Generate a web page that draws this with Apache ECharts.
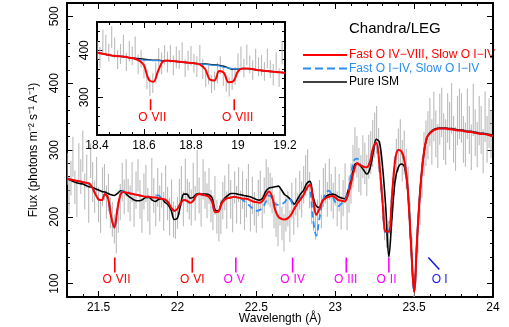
<!DOCTYPE html>
<html>
<head>
<meta charset="utf-8">
<script src="https://cdn.jsdelivr.net/npm/echarts@6/dist/echarts.min.js"></script>
<style>
html,body{margin:0;padding:0;background:#fff;}
#chart{width:509px;height:327px;}
</style>
</head>
<body>
<div id="chart"></div>
<script>
// binned spectrum (main panel): start wavelength + bin width, flux and 1-sigma errors
const mainStart = 21.30, mainBin = 0.0125
const mainFlux = [
  272,232,258,290,244,226,281,260, 298,238,268,220,284,252,230,262,
  218,200,245,252,222,236,206,196, 182,170,200,222,252,230,258,232,
  220,252,210,240,262,226,202,238, 250,218,200,258,232,210,244,220,
  240,208,250,220,200,232,196,192, 206,230,246,212,256,232,224,214,
  252,220,268,232,210,256,240,224, 246,216,206,232,200,186,200,224,
  236,210,254,226,204,244,218,248, 214,240,206,228,252,202,232,212,
  200,228,240,208,232,256,246,240, 232,208,196,180,214,190,176,204,
  212,186,224,198,230,210,240,226, 248,262,270,240,216,204,190,200,
  228,208,244,250,226,256,236,224, 246,212,236,206,228,250,204,234,
  250,276,300,290,270,262,290,280, 262,290,296,310,322,330,300,270,
  222,190,178,172,188,222,262,286, 300,312,284,296,272,246,196,148,
  96,120,168,214,258,294,310,322,  342,312,350,324,306,346,356,320,
  312,348,336,362,316,302,344,354, 348,316,308,354,330,304,360,326,
  308,344,330,298,350,316,340,324
]
const mainErr = [
  24,28,26,30,25,27,29,26, 31,27,25,29,26,30,24,28,
  26,24,29,27,25,28,23,26, 22,25,24,27,29,26,28,25,
  27,30,25,28,24,29,26,27, 28,25,27,30,26,24,29,27,
  26,29,27,25,28,24,27,25, 24,27,30,26,31,25,28,27,
  29,26,32,27,25,30,28,26, 27,24,26,29,25,23,26,28,
  26,28,25,29,27,24,28,26, 25,28,26,29,27,24,28,25,
  24,27,29,25,27,30,28,26, 27,25,26,24,27,25,28,26,
  26,24,27,25,28,26,29,27, 28,30,31,27,26,25,24,26,
  27,25,29,30,26,31,28,27, 29,26,28,25,27,30,24,28,
  30,32,34,31,33,30,32,31, 31,33,32,35,34,36,33,31,
  27,25,24,22,24,26,29,31, 32,34,31,33,30,29,25,21,
  18,19,23,26,30,33,34,36, 36,34,37,35,33,38,37,35,
  34,37,36,38,35,33,37,38, 37,35,33,38,36,34,39,35,
  34,37,36,33,38,35,37,36
]

// model curves (main panel) sampled every 0.02 A from 21.30
const modelStart = 21.30, modelStep = 0.02
const redModel = [
  257,256,255,254,253,252,251,250,244,234,
  226,225,234,228,200,184,212,234,237,236,
  235,234,233,232,231,230,230,229,229,228,
  227,226,222,214,209,212,220,225,224,221,
  224,232,234,233,232,230,222,207,208,220,
  226,228,229,230,229,228,227,227,225,223,
  222,221,224,232,238,230,210,200,197,196,
  198,203,212,220,226,233,243,248,226,203,
  212,224,228,230,231,229,225,224,223,232,
  250,270,280,277,275,274,282,303,311,278,
  222,178,178,232,285,300,298,282,240,160,
  88,172,245,292,318,325,329,331,332,332,
  332,331,331,330,329,329,328,327,327,326,
  325,324,324,323,322,321
]
const blueModel = [
  257,256,255,254,253,252,251,250,244,234,
  226,225,234,228,200,184,212,234,239,238,
  235,234,233,232,231,230,230,229,232,232,
  227,226,222,214,209,212,220,225,224,221,
  224,232,234,233,232,230,222,207,208,220,
  226,228,229,230,229,228,224,220,216,212,
  209,210,214,222,232,228,219,218,219,222,
  228,224,212,220,228,234,242,240,195,172,
  198,222,236,239,232,222,216,220,224,236,
  262,285,287,278,275,274,282,303,311,278,
  222,175,176,232,285,300,298,282,240,160,
  88,172,245,292,318,325,329,331,332,332,
  332,331,331,330,329,329,328,327,327,326,
  325,324,324,323,322,321
]
const blackModel = [
  257,255,253,251,250,249,247,245,244,242,
  240,238,237,235,233,232,235,239,238,233,
  229,226,224,224,226,229,229,225,223,226,
  227,222,218,210,196,198,218,234,234,228,
  229,234,235,234,234,233,228,210,209,222,
  228,232,235,235,234,233,232,231,230,228,
  226,225,228,238,243,244,245,246,240,233,
  230,225,219,226,234,240,250,253,230,216,
  214,224,230,233,234,233,230,228,227,238,
  255,276,280,276,270,264,272,295,316,312,
  275,215,140,200,255,274,279,274,240,160,
  88,172,245,292,318,326,330,332,333,333,
  333,332,332,331,330,330,329,328,328,327,
  326,325,325,324,323,322
]

// inset (18.4-19.2 A)
const insetStart = 18.40, insetBin = 0.0125
const insetFlux = [
  400,385,420,412,395,428,405,380, 392,410,375,398,388,405,370,382,
  360,335,322,330,352,385,372,390, 375,392,368,385,380,395,362,378,
  388,372,365,392,360,340,348,328, 335,352,368,345,330,322,338,345,
  372,385,362,390,370,358,380,365, 368,355,382,360,348,375,342,395
]
const insetErr = [
  20,22,24,21,19,23,22,20, 21,23,19,22,20,24,21,19,
  20,18,19,21,22,20,23,21, 22,19,21,23,20,22,19,21,
  21,20,22,19,21,18,20,19, 20,22,19,21,18,20,22,19,
  21,23,20,22,19,21,23,20, 22,20,21,19,23,21,20,24
]
const insetModelStart = 18.40, insetModelStep = 0.02
const insetRed = [
  395,393,391,389,388,387,386,384,382,378,
  368,338,333,356,376,378,377,376,375,374,
  373,372,369,360,338,336,356,352,332,334,
  355,361,361,360,358,357,356,355,354,353,352
]
const insetBlue = [
  395,393,391,389,388,387,386,384,382,380,
  379,379,378,378,377,378,377,376,375,374,
  373,372,371,370,369,368,367,364,362,361,
  360,361,361,360,358,357,356,355,354,353,352
]
const insetBlack = [
  395,393,391,389,388,387,386,384,383,382,
  381,380,379,379,378,378,377,376,375,374,
  373,372,371,371,370,369,368,366,362,360,
  360,361,361,360,358,357,356,355,354,353,352
]

// ticks
const mainXMajor = [21.5, 22, 22.5, 23, 23.5, 24]
const mainYMajor = [100, 200, 300, 400, 500]
const insetXMajor = [18.4, 18.6, 18.8, 19, 19.2]
const insetYMajor = [300, 400]

// absorption line markers
const mainIons = ['VII', 'VI', 'V', 'IV', 'III', 'II', 'I']
const mainIonWave = [21.603, 22.094, 22.37, 22.73, 23.07, 23.34, 23.66]
const insetIons = ['VII', 'VIII']
const insetIonWave = [18.628, 18.984]

const ionColor = {VIII:'#ff0000', VII:'#ff0000', VI:'#ff0000', V:'#ff00ff', IV:'#ff00ff', III:'#ff00ff', II:'#ff00ff', I:'#1a1ae6'}
const RED = '#ff0000', BLUE = '#2b8ef0', BLACK = '#000000', GREY = '#bbbbbb'
const FONT = 'Liberation Sans, Arial, Helvetica, sans-serif'
const NAME_RED = 'Fast O IV\u2212VIII, Slow O I\u2212IV'
const NAME_BLUE = 'Fast O I\u2212IV, Slow O I\u2212IV'
const NAME_BLACK = 'Pure ISM'

const pairs = (start, step, vals) => vals.map((v, i) => [+(start + i * step).toFixed(5), v])
const bars = (start, step, vals, errs) => vals.map((v, i) => [+(start + i * step).toFixed(5), v, errs[i]])

function errRender(params, api){
  const x = api.value(0), f = api.value(1), e = api.value(2)
  const a = api.coord([x, f - e]), b = api.coord([x, f + e])
  return {type:'line', shape:{x1:a[0], y1:a[1], x2:b[0], y2:b[1]}, style:{stroke:GREY, lineWidth:1.1}}
}

function ionRender(names, topVal, len, textGap){
  return function(params, api){
    const name = names[params.dataIndex]
    const p = api.coord([api.value(0), topVal])
    const c = ionColor[name]
    const ty = p[1] + len + textGap
    const kids = []
    if(name === 'I'){
      kids.push({type:'line', shape:{x1:p[0]-11, y1:p[1], x2:p[0], y2:p[1]+len-3}, style:{stroke:c, lineWidth:1.6}})
      kids.push({type:'text', x:p[0]-3, y:ty, style:{text:'O', fill:c, font:'12px '+FONT, align:'center', verticalAlign:'middle'}})
      kids.push({type:'text', x:p[0]+5, y:ty, style:{text:'I', fill:c, font:'12px '+FONT, align:'left', verticalAlign:'middle'}})
    } else {
      kids.push({type:'line', shape:{x1:p[0], y1:p[1], x2:p[0], y2:p[1]+len}, style:{stroke:c, lineWidth:1.6}})
      kids.push({type:'text', x:p[0]-3, y:ty, style:{text:'O', fill:c, font:'12px '+FONT, align:'right', verticalAlign:'middle'}})
      kids.push({type:'text', x:p[0]+1, y:ty, style:{text:name, fill:c, font:'12px '+FONT, align:'left', verticalAlign:'middle'}})
    }
    return {type:'group', children:kids}
  }
}

const axisBase = {
  type:'value', splitLine:{show:false},
  axisLine:{show:false}, axisLabel:{show:false},
  axisTick:{show:true, inside:true, length:3, lineStyle:{color:'#000', width:1}}
}
function minorAx(grid, pos, min, max, interval, lineW){
  return Object.assign({}, axisBase, {gridIndex:grid, position:pos, min, max, interval,
    axisLine:{show:true, onZero:false, lineStyle:{color:'#000', width:lineW}}})
}
function majorAx(grid, pos, min, max, vals, label){
  return Object.assign({}, axisBase, {gridIndex:grid, position:pos, min, max,
    axisTick:{show:true, inside:true, length:6, customValues:vals, lineStyle:{color:'#000', width:1}},
    axisLabel: label ? Object.assign({show:true, customValues:vals, color:'#000', fontSize:12, fontFamily:FONT}, label) : {show:false}
  })
}
const lineSeries = (name, xi, yi, color, width, type, z, data) => ({
  type:'line', name, xAxisIndex:xi, yAxisIndex:yi, symbol:'none', showSymbol:false,
  smooth:0.35, z, lineStyle:{color, width, type}, itemStyle:{color}, data
})

// hand-drawn legend (line sample + label)
const legendRows = [[NAME_RED, RED, 'solid', 2], [NAME_BLUE, BLUE, [8,4], 2], [NAME_BLACK, BLACK, 'solid', 1.5]]
const legendGraphic = []
legendRows.forEach((r, i) => {
  const y = 55 + i * 13.5
  legendGraphic.push({type:'line', shape:{x1:303, y1:y, x2:347, y2:y},
    style:{stroke:r[1], lineWidth:r[3], lineDash:r[2] === 'solid' ? null : r[2]}})
  legendGraphic.push({type:'text', x:349, y:y, style:{text:r[0], fill:r[1], font:'12px '+FONT, verticalAlign:'middle'}})
})

const chart = echarts.init(document.getElementById('chart'))
chart.setOption({
  animation:false,
  backgroundColor:'#fff',
  textStyle:{fontFamily:FONT},
  title:{text:'Chandra/LEG', left:349, top:21, padding:0,
    textStyle:{fontSize:15, fontWeight:'normal', color:'#000', fontFamily:FONT}},
  graphic:legendGraphic,
  grid:[
    {left:67, top:3, width:426, height:294, outerBoundsMode:'none', containLabel:false},
    {left:97, top:22, width:188, height:113, outerBoundsMode:'none', containLabel:false,
      show:true, backgroundColor:'#fff', borderWidth:0, z:5}
  ],
  xAxis:[
    Object.assign(minorAx(0, 'bottom', 21.3, 24, 0.1, 2), {
      name:'Wavelength (\u00c5)', nameLocation:'middle', nameGap:16,
      nameTextStyle:{fontSize:12, color:'#000', fontFamily:FONT}}),
    majorAx(0, 'bottom', 21.3, 24, mainXMajor, {margin:5, formatter:v => String(+v.toFixed(1))}),
    minorAx(0, 'top', 21.3, 24, 0.1, 2),
    majorAx(0, 'top', 21.3, 24, mainXMajor, null),
    Object.assign(minorAx(1, 'bottom', 18.4, 19.2, 0.05, 2), {z:6}),
    Object.assign(majorAx(1, 'bottom', 18.4, 19.2, insetXMajor, {margin:5, formatter:v => String(+v.toFixed(1))}), {z:6}),
    Object.assign(minorAx(1, 'top', 18.4, 19.2, 0.05, 2), {z:6}),
    Object.assign(majorAx(1, 'top', 18.4, 19.2, insetXMajor, null), {z:6})
  ],
  yAxis:[
    Object.assign(minorAx(0, 'left', 80, 520, 20, 2), {
      name:'Flux (photons m\u207b\u00b2 s\u207b\u00b9 A\u207b\u00b9)', nameLocation:'middle', nameGap:27, nameRotate:90,
      nameTextStyle:{fontSize:12, color:'#000', fontFamily:FONT}}),
    majorAx(0, 'left', 80, 520, mainYMajor, {margin:6, rotate:90}),
    minorAx(0, 'right', 80, 520, 20, 2),
    majorAx(0, 'right', 80, 520, mainYMajor, null),
    Object.assign(minorAx(1, 'left', 220, 460, 20, 2), {z:6}),
    Object.assign(majorAx(1, 'left', 220, 460, insetYMajor, {margin:6, rotate:90}), {z:6}),
    Object.assign(minorAx(1, 'right', 220, 460, 20, 2), {z:6}),
    Object.assign(majorAx(1, 'right', 220, 460, insetYMajor, null), {z:6})
  ],
  series:[
    {type:'custom', name:'data', xAxisIndex:0, yAxisIndex:0, clip:true, z:1,
      renderItem:errRender, data:bars(mainStart, mainBin, mainFlux, mainErr)},
    lineSeries(NAME_BLACK, 0, 0, BLACK, 1.6, 'solid', 2, pairs(modelStart, modelStep, blackModel)),
    lineSeries(NAME_BLUE, 0, 0, BLUE, 1.8, [6,4], 3, pairs(modelStart, modelStep, blueModel)),
    lineSeries(NAME_RED, 0, 0, RED, 2, 'solid', 4, pairs(modelStart, modelStep, redModel)),
    {type:'custom', name:'ions', xAxisIndex:0, yAxisIndex:0, clip:false, z:4,
      renderItem:ionRender(mainIons, 139, 15, 7), data:mainIonWave.map(w => [w])},

    {type:'custom', name:'insetdata', xAxisIndex:4, yAxisIndex:4, clip:true, z:7,
      renderItem:errRender, data:bars(insetStart, insetBin, insetFlux, insetErr)},
    lineSeries(NAME_BLACK, 4, 4, BLACK, 1.4, 'solid', 8, pairs(insetModelStart, insetModelStep, insetBlack)),
    lineSeries(NAME_BLUE, 4, 4, BLUE, 1.3, 'solid', 9, pairs(insetModelStart, insetModelStep, insetBlue)),
    lineSeries(NAME_RED, 4, 4, RED, 2, 'solid', 10, pairs(insetModelStart, insetModelStep, insetRed)),
    {type:'custom', name:'insetions', xAxisIndex:4, yAxisIndex:4, clip:false, z:10,
      renderItem:ionRender(insetIons, 296, 11, 7), data:insetIonWave.map(w => [w])}
  ]
})
</script>
</body>
</html>
